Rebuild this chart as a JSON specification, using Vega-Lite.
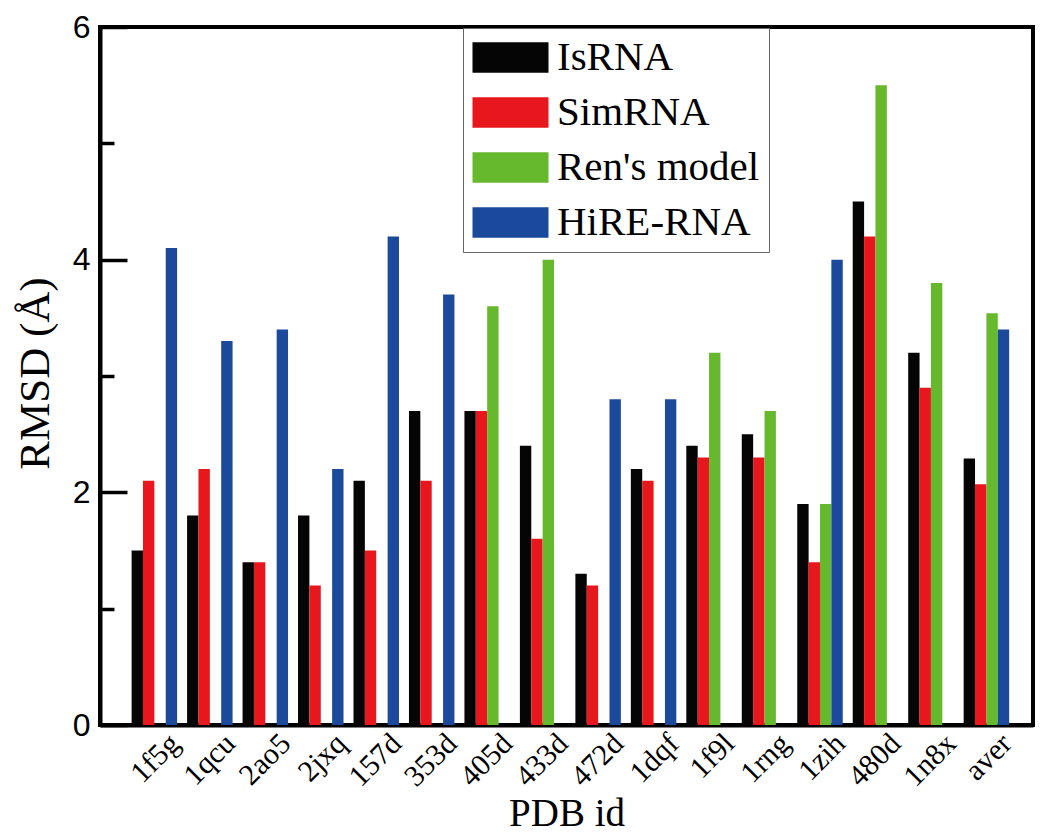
{
  "$schema": "https://vega.github.io/schema/vega-lite/v6.json",
  "width": 933,
  "height": 698,
  "autosize": {"type": "none"},
  "padding": {"left": 100, "top": 27, "right": 17, "bottom": 112},
  "background": "white",
  "config": {
    "font": "Liberation Serif",
    "view": {"stroke": "black", "strokeWidth": 4}
  },
  "data": {"values": [
    {"pdb": "1f5g", "model": "IsRNA", "rmsd": 1.5},
    {"pdb": "1f5g", "model": "SimRNA", "rmsd": 2.1},
    {"pdb": "1f5g", "model": "HiRE-RNA", "rmsd": 4.1},
    {"pdb": "1qcu", "model": "IsRNA", "rmsd": 1.8},
    {"pdb": "1qcu", "model": "SimRNA", "rmsd": 2.2},
    {"pdb": "1qcu", "model": "HiRE-RNA", "rmsd": 3.3},
    {"pdb": "2ao5", "model": "IsRNA", "rmsd": 1.4},
    {"pdb": "2ao5", "model": "SimRNA", "rmsd": 1.4},
    {"pdb": "2ao5", "model": "HiRE-RNA", "rmsd": 3.4},
    {"pdb": "2jxq", "model": "IsRNA", "rmsd": 1.8},
    {"pdb": "2jxq", "model": "SimRNA", "rmsd": 1.2},
    {"pdb": "2jxq", "model": "HiRE-RNA", "rmsd": 2.2},
    {"pdb": "157d", "model": "IsRNA", "rmsd": 2.1},
    {"pdb": "157d", "model": "SimRNA", "rmsd": 1.5},
    {"pdb": "157d", "model": "HiRE-RNA", "rmsd": 4.2},
    {"pdb": "353d", "model": "IsRNA", "rmsd": 2.7},
    {"pdb": "353d", "model": "SimRNA", "rmsd": 2.1},
    {"pdb": "353d", "model": "HiRE-RNA", "rmsd": 3.7},
    {"pdb": "405d", "model": "IsRNA", "rmsd": 2.7},
    {"pdb": "405d", "model": "SimRNA", "rmsd": 2.7},
    {"pdb": "405d", "model": "Ren's model", "rmsd": 3.6},
    {"pdb": "433d", "model": "IsRNA", "rmsd": 2.4},
    {"pdb": "433d", "model": "SimRNA", "rmsd": 1.6},
    {"pdb": "433d", "model": "Ren's model", "rmsd": 4.0},
    {"pdb": "472d", "model": "IsRNA", "rmsd": 1.3},
    {"pdb": "472d", "model": "SimRNA", "rmsd": 1.2},
    {"pdb": "472d", "model": "HiRE-RNA", "rmsd": 2.8},
    {"pdb": "1dqf", "model": "IsRNA", "rmsd": 2.2},
    {"pdb": "1dqf", "model": "SimRNA", "rmsd": 2.1},
    {"pdb": "1dqf", "model": "HiRE-RNA", "rmsd": 2.8},
    {"pdb": "1f9l", "model": "IsRNA", "rmsd": 2.4},
    {"pdb": "1f9l", "model": "SimRNA", "rmsd": 2.3},
    {"pdb": "1f9l", "model": "Ren's model", "rmsd": 3.2},
    {"pdb": "1rng", "model": "IsRNA", "rmsd": 2.5},
    {"pdb": "1rng", "model": "SimRNA", "rmsd": 2.3},
    {"pdb": "1rng", "model": "Ren's model", "rmsd": 2.7},
    {"pdb": "1zih", "model": "IsRNA", "rmsd": 1.9},
    {"pdb": "1zih", "model": "SimRNA", "rmsd": 1.4},
    {"pdb": "1zih", "model": "Ren's model", "rmsd": 1.9},
    {"pdb": "1zih", "model": "HiRE-RNA", "rmsd": 4.0},
    {"pdb": "480d", "model": "IsRNA", "rmsd": 4.5},
    {"pdb": "480d", "model": "SimRNA", "rmsd": 4.2},
    {"pdb": "480d", "model": "Ren's model", "rmsd": 5.5},
    {"pdb": "1n8x", "model": "IsRNA", "rmsd": 3.2},
    {"pdb": "1n8x", "model": "SimRNA", "rmsd": 2.9},
    {"pdb": "1n8x", "model": "Ren's model", "rmsd": 3.8},
    {"pdb": "aver", "model": "IsRNA", "rmsd": 2.29},
    {"pdb": "aver", "model": "SimRNA", "rmsd": 2.07},
    {"pdb": "aver", "model": "Ren's model", "rmsd": 3.54},
    {"pdb": "aver", "model": "HiRE-RNA", "rmsd": 3.40}
  ]},
  "mark": {"type": "bar"},
  "encoding": {
    "x": {
      "field": "pdb", "type": "nominal",
      "sort": ["1f5g","1qcu","2ao5","2jxq","157d","353d","405d","433d","472d","1dqf","1f9l","1rng","1zih","480d","1n8x","aver"],
      "scale": {"paddingInner": 0.18, "paddingOuter": 0.5, "align": 0.57},
      "axis": {
        "title": "PDB id", "titleFont": "Liberation Serif", "titleFontSize": 39, "titleFontWeight": 400, "titleColor": "black",
        "titleBaseline": "alphabetic", "titleY": 100,
        "labelFont": "Liberation Serif", "labelFontSize": 30, "labelAngle": -45, "labelColor": "black",
        "ticks": false, "domainColor": "black", "domainWidth": 4, "labelPadding": 3, "labelOffset": 10
      }
    },
    "xOffset": {
      "field": "model", "type": "nominal",
      "sort": ["IsRNA","SimRNA","Ren's model","HiRE-RNA"],
      "scale": {"domain": ["IsRNA","SimRNA","Ren's model","HiRE-RNA"], "paddingInner": 0, "paddingOuter": 0}
    },
    "y": {
      "field": "rmsd", "type": "quantitative",
      "scale": {"domain": [0, 6], "nice": false},
      "axis": {
        "values": [0,1,2,3,4,5,6],
        "labelExpr": "datum.value % 2 === 0 ? datum.label : ''",
        "tickSize": {"condition": {"test": "datum.value % 2 === 0", "value": -27}, "value": -14},
        "tickWidth": 3.5, "tickColor": "black", "domainColor": "black", "domainWidth": 4, "grid": false,
        "labelFont": "Liberation Sans", "labelFontSize": 32, "labelColor": "black", "labelPadding": 37,
        "title": "RMSD (Å)", "titleFont": "Liberation Serif", "titleFontSize": 43, "titleFontWeight": 400, "titleColor": "black",
        "titleBaseline": "alphabetic", "titleX": -52, "titleY": 346
      }
    },
    "color": {
      "field": "model", "type": "nominal",
      "scale": {"domain": ["IsRNA","SimRNA","Ren's model","HiRE-RNA"], "range": ["#050505","#E8171D","#66B82C","#1B4A9C"]},
      "legend": {
        "orient": "none", "legendX": 363, "legendY": 1, "title": null,
        "symbolType": "M-2.5,-1H2.5V1H-2.5Z", "symbolSize": 924, "symbolOffset": 18, "symbolStrokeWidth": 0, "symbolOpacity": 1,
        "labelFont": "Liberation Serif", "labelFontSize": 41, "labelColor": "black", "labelOffset": 26, "labelLimit": 400,
        "rowPadding": 13, "padding": 9, "strokeColor": "#666666", "fillColor": "white"
      }
    }
  }
}
